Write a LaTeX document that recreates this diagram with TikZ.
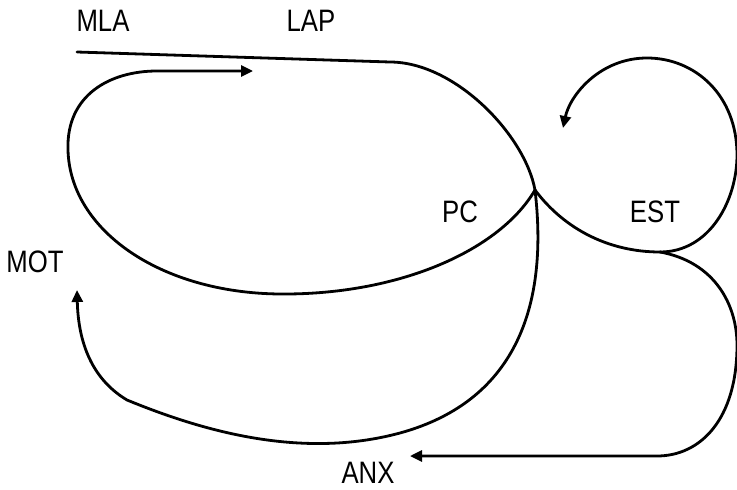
\documentclass[tikz,border=0pt]{standalone}
\usepackage{fontspec}
\setmainfont[FakeStretch=0.83]{Liberation Sans}
\usetikzlibrary{arrows.meta}
\begin{document}
\begin{tikzpicture}[x=1pt,y=-1pt,
  flow/.style={line width=2.8pt, line cap=round},
  tip/.style={-{Triangle[length=12pt,width=11pt]}},
  lbl/.style={font=\fontsize{31}{36}\selectfont, inner sep=0pt}]
\useasboundingbox (0,0) rectangle (737,490);
% labels
\node[lbl] (mla) at (103,21) {MLA};
\node[lbl] (lap) at (311,21) {LAP};
\node[lbl] (pc)  at (460,212) {PC};
\node[lbl] (est) at (655,212) {EST};
\node[lbl] (mot) at (35,262) {MOT};
\node[lbl] (anx) at (368,473) {ANX};
% junctions and ends
\coordinate (s0) at (77,52);
\coordinate (s1) at (390,62);
\coordinate (pcj) at (535,190);
\coordinate (estj) at (660,252);
\coordinate (l1) at (280,294);
\coordinate (l2) at (68,150);
\coordinate (l3) at (157,71);
\coordinate (l4) at (253,71);
\coordinate (v1) at (400,433);
\coordinate (v2) at (127,400);
\coordinate (v3) at (77,290);
\coordinate (c1) at (737,155);
\coordinate (c2) at (647,58);
\coordinate (c3) at (563,128);
\coordinate (r1) at (737,345);
\coordinate (r2) at (657,456);
\coordinate (r3) at (410,456);
% top line into PC
\draw[flow] (s0) -- (s1) .. controls (455,62) and (525,135) .. (pcj);
% PC loop back to MLA
\draw[flow,tip] (pcj) .. controls (500,250) and (400,295) .. (l1)
  .. controls (160,293) and (70,230) .. (l2)
  .. controls (66,95) and (110,71) .. (l3) -- (l4);
% PC down to ANX and up to MOT
\draw[flow,tip] (pcj) .. controls (548,300) and (520,400) .. (v1)
  .. controls (300,460) and (200,430) .. (v2)
  .. controls (85,375) and (78,330) .. (v3);
% PC to EST
\draw[flow] (pcj) .. controls (565,230) and (610,252) .. (estj);
% EST loop
\draw[flow,tip] (estj) .. controls (710,252) and (737,200) .. (c1)
  .. controls (737,95) and (695,58) .. (c2)
  .. controls (600,58) and (570,95) .. (c3);
% EST to ANX
\draw[flow,tip] (estj) .. controls (715,262) and (737,305) .. (r1)
  .. controls (737,420) and (700,456) .. (r2) -- (r3);
\end{tikzpicture}
\end{document}
